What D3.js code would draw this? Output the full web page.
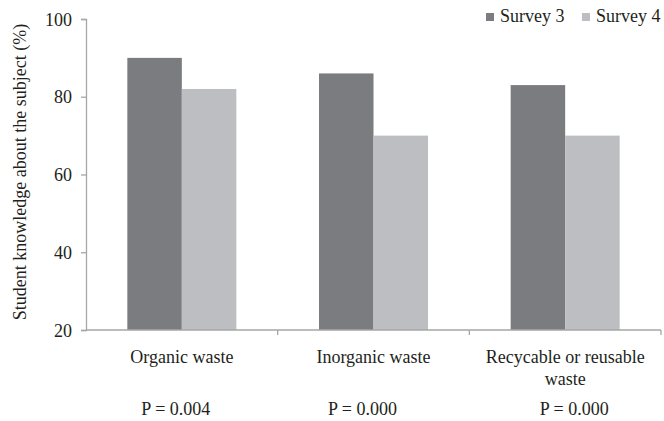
<!DOCTYPE html>
<html>
<head>
<meta charset="utf-8">
<script src="https://cdn.jsdelivr.net/npm/d3@7"></script>
<style>
  body { margin: 0; background: #fff; }
  svg text { font-family: "Liberation Serif", "Times New Roman", serif; fill: #231f20; }
</style>
</head>
<body>
<svg id="chart" width="664" height="421"></svg>
<script>
// chart data
const categories = ["Organic waste", "Inorganic waste", "Recycable or reusable waste"];
const seriesNames = ["Survey 3", "Survey 4"];
const survey3 = [90, 86, 83];
const survey4 = [82, 70, 70];
const pLabels = ["P = 0.004", "P = 0.000", "P = 0.000"];
const yTicks = [20, 40, 60, 80, 100];

const colors = ["#7b7c80", "#bdbec2"];
const axisColor = "#a6a6a6";
const serif = "Liberation Serif, Times New Roman, serif";

const svg = d3.select("#chart");
const margin = {top: 19, right: 3, bottom: 91, left: 86};
const width = 664 - margin.left - margin.right;
const height = 421 - margin.top - margin.bottom;

const g = svg.append("g")
  .attr("transform", `translate(${margin.left},${margin.top})`);

const x = d3.scaleBand()
  .domain(categories)
  .range([0, width])
  .paddingInner(0)
  .paddingOuter(0);

const x1 = d3.scaleBand()
  .domain(seriesNames)
  .range([0, 109])
  .padding(0);

const y = d3.scaleLinear()
  .domain([20, 100])
  .range([height, 0]);

const rows = categories.map((c, i) => ({cat: c, values: [survey3[i], survey4[i]]}));

// bars
const groups = g.selectAll(".grp")
  .data(rows)
  .enter().append("g")
  .attr("class", "grp")
  .attr("transform", d => `translate(${x(d.cat) + (x.bandwidth() - 109) / 2},0)`);

groups.selectAll("rect")
  .data(d => d.values.map((v, i) => ({key: seriesNames[i], value: v, i: i})))
  .enter().append("rect")
  .attr("x", d => x1(d.key))
  .attr("width", x1.bandwidth())
  .attr("y", d => y(d.value))
  .attr("height", d => y(20) - y(d.value))
  .attr("fill", d => colors[d.i]);

// y axis
const yAxis = g.append("g")
  .call(d3.axisLeft(y).tickValues(yTicks).tickSize(5).tickPadding(9))
  .attr("font-family", serif)
  .attr("font-size", 18);
yAxis.select(".domain").attr("stroke", axisColor).attr("stroke-width", 1.3);
yAxis.selectAll(".tick line").attr("stroke", axisColor).attr("stroke-width", 1.3);
yAxis.selectAll(".tick text").attr("fill", "#231f20").attr("dy", "0.34em");

// x axis line with ticks at category boundaries
const xAxisG = g.append("g").attr("transform", `translate(0,${height})`);
xAxisG.append("line")
  .attr("x1", 0).attr("x2", width)
  .attr("y1", 0).attr("y2", 0)
  .attr("stroke", axisColor).attr("stroke-width", 1.3);
xAxisG.selectAll(".bt")
  .data(categories)
  .enter().append("line")
  .attr("x1", d => x(d) + x.bandwidth())
  .attr("x2", d => x(d) + x.bandwidth())
  .attr("y1", 0).attr("y2", 5)
  .attr("stroke", axisColor).attr("stroke-width", 1.3);

// category labels (wrap the long one)
const catLines = [["Organic waste"], ["Inorganic waste"], ["Recycable or reusable", "waste"]];
xAxisG.selectAll(".cat")
  .data(categories)
  .enter().append("text")
  .attr("class", "cat")
  .attr("text-anchor", "middle")
  .style("font-size", "18px")
  .attr("transform", d => `translate(${x(d) + x.bandwidth() / 2},33)`)
  .each(function(d, i) {
    const t = d3.select(this);
    catLines[i].forEach((line, j) => {
      t.append("tspan").attr("x", 0).attr("y", j * 22).text(line);
    });
  });

// P values
const pShift = [-6, -11, 9];
xAxisG.selectAll(".pval")
  .data(pLabels)
  .enter().append("text")
  .attr("class", "pval")
  .attr("text-anchor", "middle")
  .style("font-size", "18px")
  .attr("x", (d, i) => x(categories[i]) + x.bandwidth() / 2 + pShift[i])
  .attr("y", 85)
  .text(d => d);

// y axis title
svg.append("text")
  .attr("transform", "translate(26,172) rotate(-90)")
  .attr("text-anchor", "middle")
  .style("font-size", "18px")
  .text("Student knowledge about the subject (%)");

// legend
const legend = svg.append("g").attr("transform", "translate(486,13)");
const legX = [0, 96];
seriesNames.forEach((s, i) => {
  const lg = legend.append("g").attr("transform", `translate(${legX[i]},0)`);
  lg.append("rect").attr("x", 0).attr("y", 0).attr("width", 8).attr("height", 8).attr("fill", colors[i]);
  lg.append("text").attr("x", 14).attr("y", 9).style("font-size", "18px").text(s);
});
</script>
</body>
</html>
